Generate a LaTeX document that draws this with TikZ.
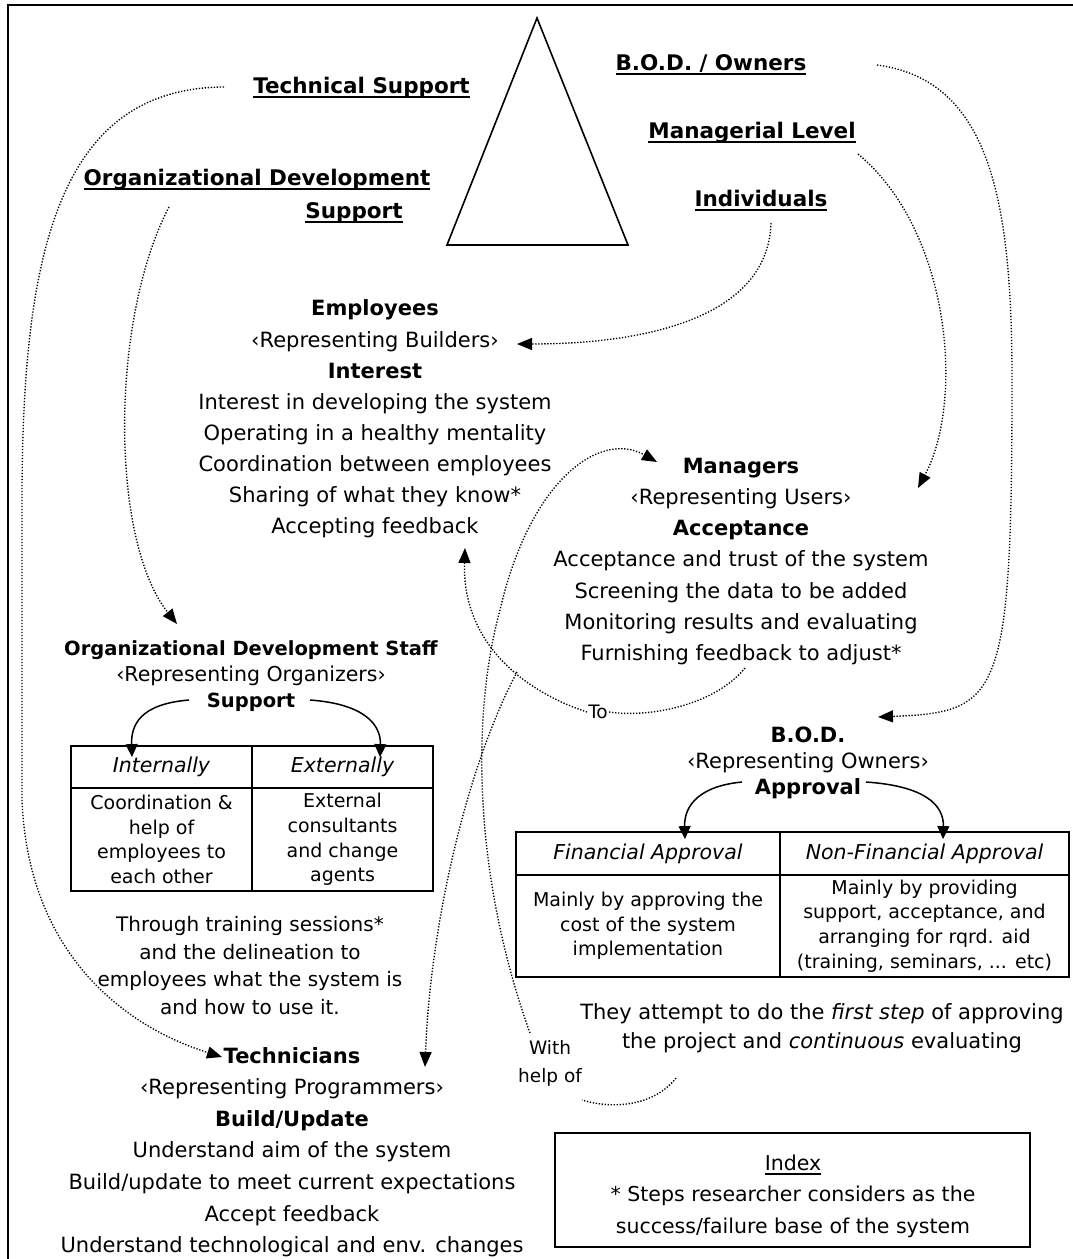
\documentclass[tikz,border=0pt]{standalone}
\usepackage{fontspec}
\setmainfont{DejaVu Sans}
\usetikzlibrary{arrows.meta}
\newcommand\myul[1]{\setbox0\hbox{#1}\rlap{\rule[-4.6pt]{\wd0}{2pt}}\box0}
\begin{document}
\begin{tikzpicture}[x=1pt,y=-1pt,
  hd/.style={font=\fontsize{21.5}{25}\selectfont\bfseries, inner sep=0pt, anchor=base},
  txt/.style={font=\fontsize{21}{31.1}\selectfont, inner sep=0pt, align=center},
  cell/.style={draw, line width=1.8pt, inner sep=0pt, align=center, font=\fontsize{19}{24.6}\selectfont},
  cellhd/.style={cell, font=\fontsize{20.5}{25}\selectfont\itshape},
  dotline/.style={line width=1.35pt, dash pattern=on 1.3pt off 1.7pt},
  dotarrow/.style={dotline, -{Triangle[length=15pt,width=12pt]}},
  solidarrow/.style={line width=1.5pt, -{Triangle[length=13pt,width=12pt]}},
  lbl/.style={font=\fontsize{18.5}{28}\selectfont, inner sep=1pt, align=center},
]
\useasboundingbox (0,0) rectangle (1073,1259);
\fill[white] (0,0) rectangle (1073,1259);
% frame
\draw[line width=2pt] (8,1262) -- (8,5) -- (1076,5);
% pyramid
\draw[line width=1.6pt, line join=miter] (537,18) -- (628,245) -- (447,245) -- cycle;

% top headings
\node[hd] (ts) at (361.5,93) {\myul{Technical Support}};
\node[hd] (odA) at (257,185) {\myul{Organizational Development}};
\node[hd] (odB) at (354,218) {\myul{Support}};
\node[hd] (own) at (711,70) {\myul{B.O.D. / Owners}};
\node[hd] (mgl) at (752,138) {\myul{Managerial Level}};
\node[hd] (ind) at (761,206) {\myul{Individuals}};

% Employees
\node[txt] (emp) at (375,419) {\textbf{Employees}\\‹Representing Builders›\\\textbf{Interest}\\Interest in developing the system\\Operating in a healthy mentality\\Coordination between employees\\Sharing of what they know*\\Accepting feedback};

% Managers
\node[txt] (mgr) at (741,561.5) {\textbf{Managers}\\‹Representing Users›\\\textbf{Acceptance}\\Acceptance and trust of the system\\Screening the data to be added\\Monitoring results and evaluating\\Furnishing feedback to adjust*};

% Org dev staff
\node[txt, font=\fontsize{20.5}{26}\selectfont] (ods) at (251,676) {{\fontsize{19.5}{26}\selectfont\bfseries Organizational Development Staff}\\‹Representing Organizers›\\{\fontsize{19.5}{26}\selectfont\bfseries Support}};

% table 1
\node[cellhd, minimum width=181pt, minimum height=42pt] (t1a) at (161.5,767) {Internally};
\node[cellhd, minimum width=181pt, minimum height=42pt] (t1b) at (342.5,767) {Externally};
\node[cell, minimum width=181pt, minimum height=103pt] (t1c) at (161.5,839.5) {Coordination \&\\help of\\employees to\\each other};
\node[cell, minimum width=181pt, minimum height=103pt] (t1d) at (342.5,839.5) {External\\consultants\\and change\\agents};

\node[txt, font=\fontsize{20}{27.7}\selectfont] (trn) at (250,965.5) {Through training sessions*\\and the delineation to\\employees what the system is\\and how to use it.};

% Technicians
\node[txt, font=\fontsize{21}{31.6}\selectfont] (tec) at (292,1152) {\textbf{Technicians}\\‹Representing Programmers›\\\textbf{Build/Update}\\Understand aim of the system\\Build/update to meet current expectations\\Accept feedback\\Understand technological and env. changes};

% BOD
\node[txt, font=\fontsize{21}{26}\selectfont] (bod) at (808,763) {\textbf{B.O.D.}\\‹Representing Owners›\\\textbf{Approval}};

% table 2
\node[cellhd, minimum width=264pt, minimum height=43pt] (t2a) at (648,853.5) {Financial Approval};
\node[cellhd, minimum width=289pt, minimum height=43pt] (t2b) at (924.5,853.5) {Non-Financial Approval};
\node[cell, minimum width=264pt, minimum height=102pt] (t2c) at (648,926) {Mainly by approving the\\cost of the system\\implementation};
\node[cell, minimum width=289pt, minimum height=102pt] (t2d) at (924.5,926) {Mainly by providing\\support, acceptance, and\\arranging for rqrd. aid\\(training, seminars, ... etc)};

\node[txt, font=\fontsize{21}{29}\selectfont] (att) at (822,1028.5) {They attempt to do the \textit{first step} of approving\\the project and \textit{continuous} evaluating};

% index
\node[draw, line width=1.5pt, minimum width=475pt, minimum height=114pt, inner sep=0pt] (idx) at (792.5,1190) {};
\node[txt, font=\fontsize{20.5}{31.5}\selectfont] (idxt) at (793,1196) {\myul{Index}\\* Steps researcher considers as the\\success/failure base of the system};

% labels
\node[lbl] (to) at (598,712) {To};
\node[lbl, inner sep=0pt] (with) at (550,1063) {With\\help of};

% support / approval arrows
\coordinate (supL) at (189,700);
\coordinate (supR) at (310,700);
\draw[solidarrow] (supL) .. controls (140,704) and (131,725) .. ([yshift=-12pt]t1a.north -| 132,0);
\draw[solidarrow] (supR) .. controls (365,704) and (381,725) .. ([yshift=-12pt]t1b.north -| 380,0);
\coordinate (appL) at (742,782);
\coordinate (appR) at (866,782);
\draw[solidarrow] (appL) .. controls (700,786) and (684,805) .. ([yshift=-8pt]t2a.north -| 685,0);
\draw[solidarrow] (appR) .. controls (925,786) and (944,805) .. ([yshift=-8pt]t2b.north -| 943,0);

% dotted connectors
\coordinate (tsOut) at (224,87);
\coordinate (tsMid1) at (22,500);
\coordinate (tsMid2) at (22,800);
\coordinate (tecIn) at (222,1057);
\draw[dotarrow] (tsOut) .. controls (60,88) and (22,250) .. (tsMid1) -- (tsMid2) .. controls (28,950) and (120,1025) .. (tecIn);

\coordinate (odOut) at (169,207);
\coordinate (odsIn) at (177,624);
\draw[dotarrow] (odOut) .. controls (110,320) and (110,540) .. (odsIn);

\coordinate (indOut) at (771,223);
\coordinate (empIn) at (517,344);
\draw[dotarrow] (indOut) .. controls (768,320) and (640,344) .. (empIn);

\coordinate (mglOut) at (858,154);
\coordinate (mgrIn) at (918,488);
\draw[dotarrow] (mglOut) .. controls (950,230) and (965,400) .. (mgrIn);

\coordinate (ownOut) at (877,65);
\coordinate (ownMid) at (1012,380);
\coordinate (bodIn) at (878,717);
\draw[dotarrow] (ownOut) .. controls (990,80) and (1012,200) .. (ownMid) .. controls (1012,700) and (1000,712) .. (bodIn);

% Managers -> To -> Employees / Technicians
\coordinate (mgrOut) at (745,668);
\coordinate (empFb) at (465,548);
\coordinate (split) at (517,672);
\coordinate (tecIn2) at (425,1067);
\draw[dotline] (mgrOut) .. controls (715,705) and (650,718) .. (to.east);
\draw[dotarrow] (to.west) .. controls (520,690) and (462,640) .. (empFb);
\draw[dotarrow] (split) .. controls (465,770) and (430,930) .. (tecIn2);

% They attempt -> With help of -> Managers
\coordinate (attOut) at (676,1078);
\coordinate (withLow) at (582,1100);
\coordinate (withTop) at (530,1033);
\coordinate (mgrMid) at (500,610);
\coordinate (mgrIn2) at (657,462);
\draw[dotline] (attOut) .. controls (655,1105) and (615,1110) .. (withLow);
\draw[dotarrow] (withTop) .. controls (475,880) and (470,720) .. (mgrMid) .. controls (530,480) and (600,430) .. (mgrIn2);
\end{tikzpicture}
\end{document}
